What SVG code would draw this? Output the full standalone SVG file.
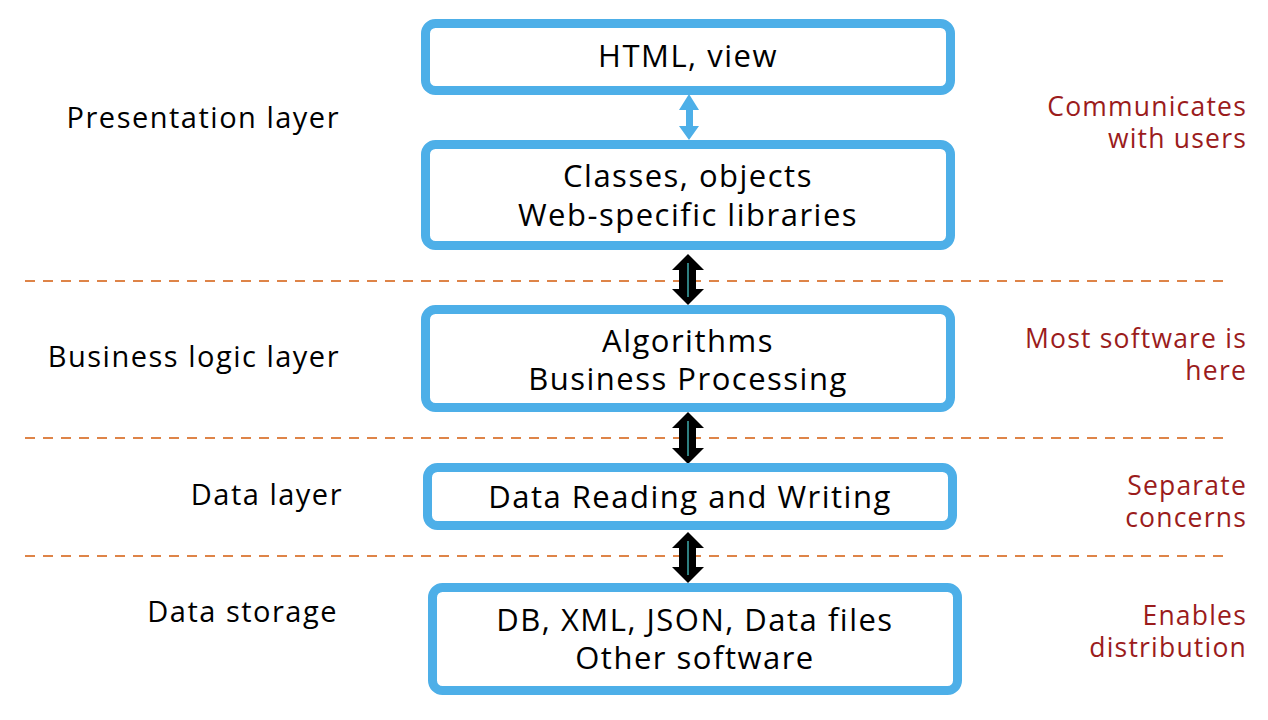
<svg xmlns="http://www.w3.org/2000/svg" width="1268" height="720" viewBox="0 0 1268 720">
<style>
.box{fill:#fff;stroke:#4DAFE8;stroke-width:9}
.t{font-family:"Open Sans",Lato,sans-serif;font-size:31px;letter-spacing:1.5px;fill:#000;text-anchor:middle}
.l{font-family:"Open Sans",Lato,sans-serif;font-size:29px;letter-spacing:1.5px;fill:#000;text-anchor:end}
.r{font-family:"Open Sans",Lato,sans-serif;font-size:26.5px;letter-spacing:1.2px;fill:#9B1C1C;text-anchor:end}
.dash{stroke:#DE8448;stroke-width:2;stroke-dasharray:10,8;fill:none}
.ba{fill:#000}
.bl{stroke:#2E7F80;stroke-width:2}
</style>
<rect width="1268" height="720" fill="#fff"/>
<g id="separators">
<line class="dash" x1="25" y1="281" x2="1225" y2="281"/>
<line class="dash" x1="25" y1="438" x2="1225" y2="438"/>
<line class="dash" x1="25" y1="556" x2="1225" y2="556"/>
</g>
<g id="labels-left">
<text class="l" x="340" y="128">Presentation layer</text>
<text class="l" x="340" y="367">Business logic layer</text>
<text class="l" x="343" y="505">Data layer</text>
<text class="l" x="338" y="622">Data storage</text>
</g>
<g id="labels-right">
<text class="r" x="1247" y="116">Communicates</text>
<text class="r" x="1247" y="148">with users</text>
<text class="r" x="1247" y="348">Most software is</text>
<text class="r" x="1247" y="380">here</text>
<text class="r" x="1247" y="495">Separate</text>
<text class="r" x="1247" y="527">concerns</text>
<text class="r" x="1247" y="625">Enables</text>
<text class="r" x="1247" y="657">distribution</text>
</g>
<g id="connectors">
<polygon fill="#4DAFE8" points="689,94 699,110 693,110 693,126 699,126 689,140 679,126 686,126 686,110 679,110"/>
<polygon class="ba" points="688,254 704,270 696,270 696,289 704,289 688,305 672,289 679,289 679,270 672,270"/>
<line class="bl" x1="688" y1="263" x2="688" y2="297"/>
<polygon class="ba" points="688,412 704,428 696,428 696,448 704,448 688,464 672,448 679,448 679,428 672,428"/>
<line class="bl" x1="688" y1="421" x2="688" y2="456"/>
<polygon class="ba" points="688,532 704,548 696,548 696,567 704,567 688,583 672,567 679,567 679,548 672,548"/>
<line class="bl" x1="688" y1="541" x2="688" y2="575"/>
</g>
<g id="node-html">
<rect class="box" x="425.5" y="23.5" width="525" height="67" rx="10"/>
<text class="t" x="688" y="67">HTML, view</text>
</g>
<g id="node-classes">
<rect class="box" x="425.5" y="144.5" width="525" height="101" rx="10"/>
<text class="t" x="688" y="187">Classes, objects</text>
<text class="t" x="688" y="226">Web-specific libraries</text>
</g>
<g id="node-business">
<rect class="box" x="425.5" y="309.5" width="525" height="98" rx="10"/>
<text class="t" x="688" y="352">Algorithms</text>
<text class="t" x="688" y="390">Business Processing</text>
</g>
<g id="node-data">
<rect class="box" x="427.5" y="467.5" width="525" height="58" rx="10"/>
<text class="t" x="690" y="508">Data Reading and Writing</text>
</g>
<g id="node-storage">
<rect class="box" x="432.5" y="587.5" width="525" height="103" rx="10"/>
<text class="t" x="695" y="631">DB, XML, JSON, Data files</text>
<text class="t" x="695" y="669">Other software</text>
</g>
</svg>
